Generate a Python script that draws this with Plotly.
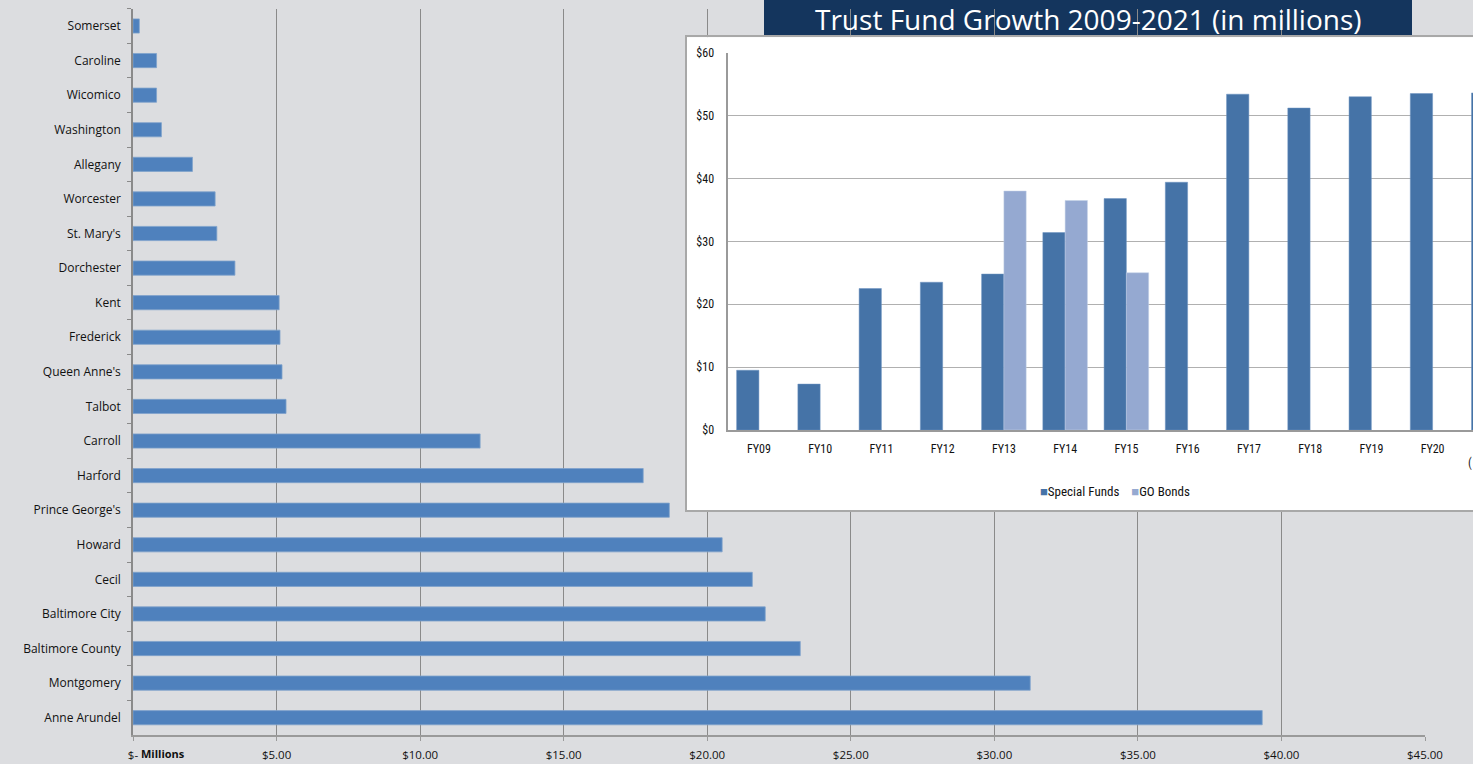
import plotly.graph_objects as go

W, H = 1473, 764

# ---- main chart data (top to bottom) ----
counties = ["Somerset", "Caroline", "Wicomico", "Washington", "Allegany", "Worcester",
            "St. Mary's", "Dorchester", "Kent", "Frederick", "Queen Anne's", "Talbot",
            "Carroll", "Harford", "Prince George's", "Howard", "Cecil", "Baltimore City",
            "Baltimore County", "Montgomery", "Anne Arundel"]
county_values = [0.22, 0.82, 0.82, 0.99, 2.07, 2.86, 2.92, 3.55, 5.09, 5.12, 5.19, 5.33,
                 12.09, 17.77, 18.68, 20.52, 21.57, 22.02, 23.24, 31.25, 39.33]
x_tickvals = [0, 5, 10, 15, 20, 25, 30, 35, 40, 45]
x_ticktext = ["$-", "$5.00", "$10.00", "$15.00", "$20.00", "$25.00", "$30.00",
              "$35.00", "$40.00", "$45.00"]

# ---- inset data ----
fiscal_years = ["FY09", "FY10", "FY11", "FY12", "FY13", "FY14", "FY15", "FY16",
                "FY17", "FY18", "FY19", "FY20", "FY21"]
special_funds = [9.5, 7.3, 22.5, 23.5, 24.8, 31.4, 36.8, 39.4, 53.4, 51.2, 53.0, 53.5, 53.6]
go_bonds = [None, None, None, None, 38.0, 36.5, 25.0, None, None, None, None, None, None]
series_names = ["Special Funds", "GO Bonds"]
series_colors = ["#4573a7", "#95a9d1"]

BG = "#dcdde0"
GRID = "#8a8a8a"
MAIN_FONT = "Open Sans, Noto Sans, sans-serif"
INSET_FONT = "Liberation Sans Narrow, Roboto Condensed, Roboto, sans-serif"


def px_x(p):
    return p / W


def px_y(p):
    return (H - p) / H


fig = go.Figure()

fig.add_trace(go.Bar(
    x=county_values, y=counties, orientation="h",
    marker=dict(color="#4f81bd", line=dict(color="#7fa2cc", width=0.8)),
    width=0.41, showlegend=False, hoverinfo="x+y",
    xaxis="x", yaxis="y",
))

# dummy empty trace to create the white inset panel subplot
fig.add_trace(go.Scatter(x=[], y=[], xaxis="x2", yaxis="y2", showlegend=False,
                         hoverinfo="skip"))

fig.add_trace(go.Bar(
    x=fiscal_years, y=special_funds, name=series_names[0],
    marker=dict(color=series_colors[0], line=dict(color="#6d93c0", width=0.5)),
    width=0.364, offset=-0.364, xaxis="x3", yaxis="y3", showlegend=False,
))
fig.add_trace(go.Bar(
    x=fiscal_years, y=go_bonds, name=series_names[1],
    marker=dict(color=series_colors[1], line=dict(color="#c3d0e6", width=0.5)),
    width=0.364, offset=0.0, xaxis="x3", yaxis="y3", showlegend=False,
))

shapes = [
    dict(type="rect", xref="paper", yref="paper", x0=0, x1=1, y0=0, y1=1,
         fillcolor=BG, line=dict(width=0), layer="below"),
    dict(type="rect", xref="paper", yref="paper",
         x0=px_x(764), x1=px_x(1412), y0=px_y(37), y1=1.05,
         fillcolor="#14355d", line=dict(width=0), layer="below"),
    dict(type="rect", xref="x2", yref="y2", x0=0, x1=1, y0=0, y1=1,
         fillcolor="white", line=dict(width=0), layer="below"),
]

legend_text = "    ".join(
    f'<span style="color:{c}">■</span>{n}' for n, c in zip(series_names, series_colors))

annotations = [
    dict(text="Trust Fund Growth 2009-2021 (in millions)", xref="paper", yref="paper",
         x=px_x(1088), y=px_y(19), xanchor="center", yanchor="middle", showarrow=False,
         font=dict(family="Open Sans, Noto Sans, sans-serif", size=28, color="white")),
    dict(text="<b>Millions</b>", xref="paper", yref="paper",
         x=px_x(139), y=px_y(753), xanchor="left", yanchor="middle", showarrow=False,
         font=dict(family=MAIN_FONT, size=11, color="#111111")),
    dict(text="(", xref="paper", yref="paper",
         x=px_x(1466), y=px_y(463), xanchor="left", yanchor="middle", showarrow=False,
         font=dict(family=INSET_FONT, size=12, color="#222222")),
    dict(text=legend_text, xref="paper", yref="paper",
         x=px_x(1115), y=px_y(491), xanchor="center", yanchor="middle", showarrow=False,
         font=dict(family=INSET_FONT, size=13, color="#111111")),
]

fig.update_layout(
    template="none",
    width=W, height=H,
    margin=dict(l=0, r=0, t=0, b=0, pad=0),
    paper_bgcolor=BG, plot_bgcolor="white",
    barmode="overlay", showlegend=False,
    shapes=shapes, annotations=annotations,
    xaxis=dict(domain=[px_x(133), px_x(1425)], range=[0, 45], anchor="y",
               tickvals=x_tickvals, ticktext=x_ticktext, automargin=False,
               showgrid=True, gridcolor=GRID, gridwidth=1.4,
               showline=True, linecolor="#9a9a9a", linewidth=2,
               ticks="outside", ticklen=4, tickcolor="#9a9a9a", tickwidth=1.3,
               ticklabelstandoff=4, zeroline=False,
               tickfont=dict(family=MAIN_FONT, size=11.5, color="#111111")),
    yaxis=dict(domain=[px_y(735), px_y(8.7)], anchor="x", type="category",
               categoryorder="array", categoryarray=counties, autorange="reversed",
               automargin=False,
               showline=True, linecolor=GRID, linewidth=1.5,
               ticks="outside", ticklen=4, tickcolor=GRID, tickwidth=1.3,
               tickson="boundaries", ticklabelstandoff=8, showgrid=False,
               tickfont=dict(family=MAIN_FONT, size=12, color="#111111")),
    xaxis2=dict(domain=[px_x(686.7), 1], range=[0, 1], anchor="y2", automargin=False,
                showgrid=False, zeroline=False, showticklabels=False, ticks="",
                showline=True, mirror=True, linecolor="#a8a8a8", linewidth=1.5,
                fixedrange=True),
    yaxis2=dict(domain=[px_y(510), px_y(37.3)], range=[0, 1], anchor="x2",
                automargin=False,
                showgrid=False, zeroline=False, showticklabels=False, ticks="",
                showline=True, mirror=True, linecolor="#a8a8a8", linewidth=1.5,
                fixedrange=True),
    xaxis3=dict(domain=[px_x(728.3), 1], range=[-0.5, 11.66], anchor="y3",
                type="category", showgrid=False, zeroline=False, automargin=False,
                showline=True, linecolor="#9a9a9a", linewidth=1.5, ticks="",
                ticklabelstandoff=7,
                tickfont=dict(family=INSET_FONT, size=12, color="#111111")),
    yaxis3=dict(domain=[px_y(430), px_y(52.7)], range=[0, 60], anchor="x3",
                automargin=False,
                dtick=10, tickprefix="$", showgrid=True, gridcolor="#b0b0b0",
                gridwidth=1.3, zeroline=False, showline=True, linecolor="#9a9a9a",
                linewidth=1.5, ticks="", ticklabelstandoff=10,
                tickfont=dict(family=INSET_FONT, size=12, color="#111111")),
)

fig.write_html("out.html", config={"displayModeBar": False},
               post_script="document.body.style.margin='0';document.body.style.overflow='hidden';")
